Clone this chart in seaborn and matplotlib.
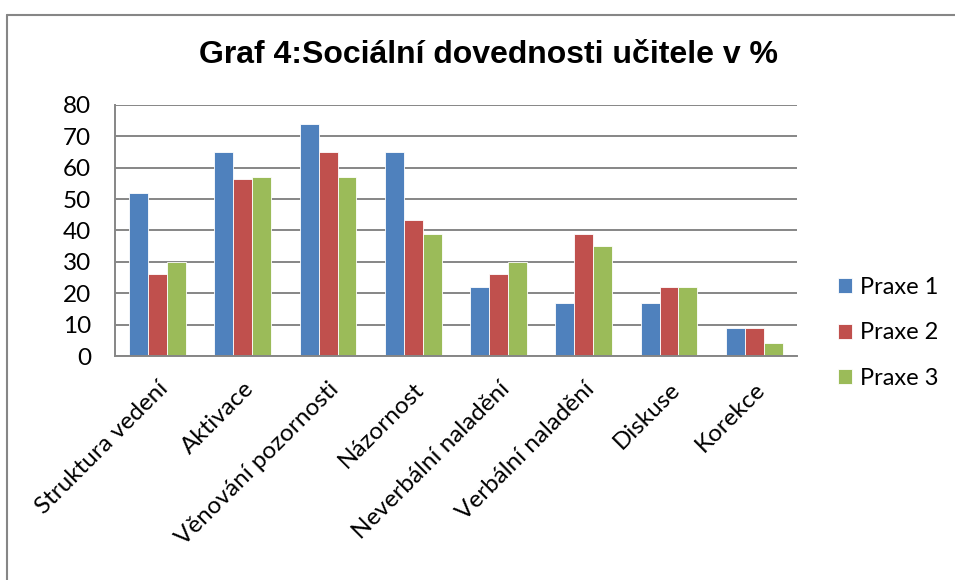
import pandas as pd
import matplotlib.pyplot as plt
import seaborn as sns
from matplotlib.lines import Line2D

categories = ["Struktura vedení", "Aktivace", "Věnování pozornosti", "Názornost",
              "Neverbální naladění", "Verbální naladění", "Diskuse", "Korekce"]
praxe1 = [52, 65, 74, 65, 22, 17, 17, 9]
praxe2 = [26, 56.5, 65, 43.5, 26, 39, 22, 9]
praxe3 = [30, 57, 57, 39, 30, 35, 22, 4]
series = ["Praxe 1", "Praxe 2", "Praxe 3"]
colors = ["#4F81BD", "#C0504D", "#9BBB59"]

df = pd.DataFrame({"kategorie": categories, "Praxe 1": praxe1,
                   "Praxe 2": praxe2, "Praxe 3": praxe3})
long = df.melt(id_vars="kategorie", var_name="serie", value_name="hodnota")

sns.set_style("white")
plt.rcParams["font.family"] = ["Lato", "DejaVu Sans"]
plt.rcParams["text.color"] = "black"
plt.rcParams["xtick.color"] = "black"
plt.rcParams["ytick.color"] = "black"

fig = plt.figure(figsize=(9.55, 5.8), dpi=100)
ax = fig.add_axes([0.1204, 0.3862, 0.714, 0.4328])

sns.barplot(data=long, x="kategorie", y="hodnota", hue="serie",
            hue_order=series, palette=colors, width=0.665,
            edgecolor="white", linewidth=0.6, saturation=1, ax=ax)

ax.set_ylim(0, 80)
ax.set_xlim(-0.5, 7.5)
ax.set_yticks(range(0, 81, 10))
ax.yaxis.grid(True, color="#868686", linewidth=1.4)
ax.set_axisbelow(True)
for s in ["top", "right"]:
    ax.spines[s].set_visible(False)
for s in ["left", "bottom"]:
    ax.spines[s].set_color("#868686")
    ax.spines[s].set_linewidth(1.4)
ax.tick_params(axis="both", length=0, labelsize=17.5, labelcolor="black")
ax.tick_params(axis="y", pad=17)
ax.tick_params(axis="x", pad=16)
ax.set_xticks(range(len(categories)))
ax.set_xticklabels(categories, rotation=45, ha="right", rotation_mode="anchor")
ax.set_xlabel("")
ax.set_ylabel("")

ax.legend_.remove()
handles, labels = ax.get_legend_handles_labels()
fig.legend(handles, labels, loc="center left", bbox_to_anchor=(0.877, 0.426),
           frameon=False, fontsize=17, labelspacing=1.05, handlelength=0.6,
           handleheight=0.6, handletextpad=0.35, borderaxespad=0, borderpad=0)

fig.text(0.511, 0.905, "Graf 4:Sociální dovednosti učitele v %",
         ha="center", va="center", fontsize=23, fontweight="bold",
         color="black", family=["Liberation Sans", "DejaVu Sans"])

# outer chart frame (only top and left edges are visible in the crop)
fig.add_artist(Line2D([0.0073, 1.0], [1 - 15 / 580, 1 - 15 / 580],
                      transform=fig.transFigure, color="#868686", linewidth=1.5))
fig.add_artist(Line2D([0.0073, 0.0073], [0.0, 1 - 15 / 580],
                      transform=fig.transFigure, color="#868686", linewidth=1.5))

fig.savefig("out.png", dpi=100)
